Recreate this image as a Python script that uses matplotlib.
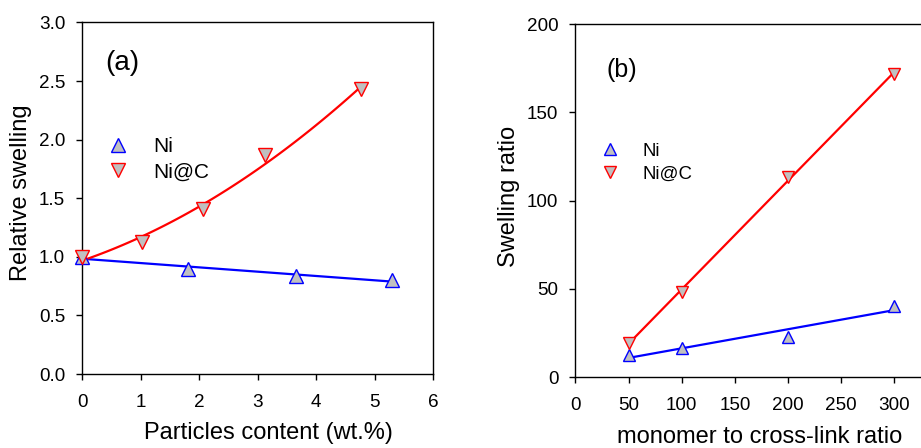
import numpy as np
import matplotlib
matplotlib.use("Agg")
import matplotlib.pyplot as plt

plt.rcParams['font.family'] = ['Liberation Sans', 'DejaVu Sans']

# panel (a): relative swelling vs particle content
a_ni_x = [0.0, 1.8, 3.65, 5.3]
a_ni_y = [1.0, 0.90, 0.835, 0.805]
a_nic_x = [0.0, 1.03, 2.07, 3.13, 4.77]
a_nic_y = [1.0, 1.13, 1.41, 1.87, 2.43]

# panel (b): swelling ratio vs monomer/cross-link ratio
b_ni_x = [50, 100, 200, 300]
b_ni_y = [12.5, 16.5, 23.0, 40.5]
b_nic_x = [50, 100, 200, 300]
b_nic_y = [19.5, 48.0, 113.5, 172.0]

fill = '#c0c0c0'
blue = '#0000ff'
red = '#ff0000'

fig = plt.figure(figsize=(9.21, 4.48), dpi=100)
ax1 = fig.add_axes([0.0893, 0.165, 0.381, 0.785])
ax2 = fig.add_axes([0.6247, 0.158, 0.381, 0.788])


def style(ax, fs_tick):
    for s in ax.spines.values():
        s.set_linewidth(1.0)
    ax.tick_params(direction='out', length=4.3, width=1.0, labelsize=fs_tick)
    ax.tick_params(axis='x', pad=10)
    ax.tick_params(axis='y', pad=8)


# ---- (a)
ax = ax1
# fitted lines
p = np.polyfit(a_ni_x, a_ni_y, 1)
xx = np.linspace(min(a_ni_x), max(a_ni_x), 50)
ax.plot(xx, np.polyval(p, xx), color=blue, lw=1.6, zorder=2)
p = np.polyfit(a_nic_x, a_nic_y, 2)
xx = np.linspace(min(a_nic_x), max(a_nic_x), 100)
ax.plot(xx, np.polyval(p, xx), color=red, lw=1.6, zorder=2)

ax.plot(a_ni_x, a_ni_y, ls='none', marker='^', ms=10.5, mfc=fill, mec=blue,
        mew=1.0, label='Ni', zorder=3, clip_on=False)
ax.plot(a_nic_x, a_nic_y, ls='none', marker='v', ms=10.5, mfc=fill, mec=red,
        mew=1.0, label='Ni@C', zorder=3, clip_on=False)

ax.set_xlim(0, 6)
ax.set_ylim(0, 3.0)
ax.set_xticks(range(0, 7))
ax.set_yticks(np.arange(0, 3.01, 0.5))
ax.set_yticklabels([f'{v:.1f}' for v in np.arange(0, 3.01, 0.5)])
style(ax, 13.6)
ax.set_xlabel('Particles content (wt.%)', fontsize=17)
ax.set_ylabel('Relative swelling', fontsize=17)
ax.xaxis.set_label_coords(0.53, -0.136)
ax.yaxis.set_label_coords(-0.142, 0.515)
ax.text(0.4, 2.65, '(a)', fontsize=20, va='center', ha='left')
ax.legend(loc='center left', bbox_to_anchor=(0.073, 0.611), frameon=False,
          fontsize=15, handlelength=1.0, handletextpad=1.18, borderaxespad=0,
          borderpad=0, labelspacing=0.3)

# ---- (b)
ax = ax2
p = np.polyfit(b_ni_x, b_ni_y, 1)
xx = np.linspace(min(b_ni_x), max(b_ni_x), 50)
ax.plot(xx, np.polyval(p, xx), color=blue, lw=1.6, zorder=2)
p = np.polyfit(b_nic_x, b_nic_y, 1)
xx = np.linspace(min(b_nic_x), max(b_nic_x), 50)
ax.plot(xx, np.polyval(p, xx), color=red, lw=1.6, zorder=2)

ax.plot(b_ni_x, b_ni_y, ls='none', marker='^', ms=8.2, mfc=fill, mec=blue,
        mew=1.0, label='Ni', zorder=3, clip_on=False)
ax.plot(b_nic_x, b_nic_y, ls='none', marker='v', ms=8.2, mfc=fill, mec=red,
        mew=1.0, label='Ni@C', zorder=3, clip_on=False)

ax.set_xlim(0, 330)
ax.set_ylim(0, 200)
ax.set_xticks(range(0, 301, 50))
ax.set_yticks(range(0, 201, 50))
ax.spines['right'].set_visible(False)
style(ax, 13.6)
ax.set_xlabel('monomer to cross-link ratio', fontsize=17)
ax.set_ylabel('Swelling ratio', fontsize=17)
ax.xaxis.set_label_coords(0.526, -0.138)
ax.yaxis.set_label_coords(-0.158, 0.513)
ax.text(29.5, 174, '(b)', fontsize=18, va='center', ha='left')
ax.legend(loc='center left', bbox_to_anchor=(0.072, 0.608), frameon=False,
          fontsize=13.4, handlelength=1.0, handletextpad=1.27, borderaxespad=0,
          borderpad=0, labelspacing=0.3)

fig.savefig('out.png', dpi=100)
